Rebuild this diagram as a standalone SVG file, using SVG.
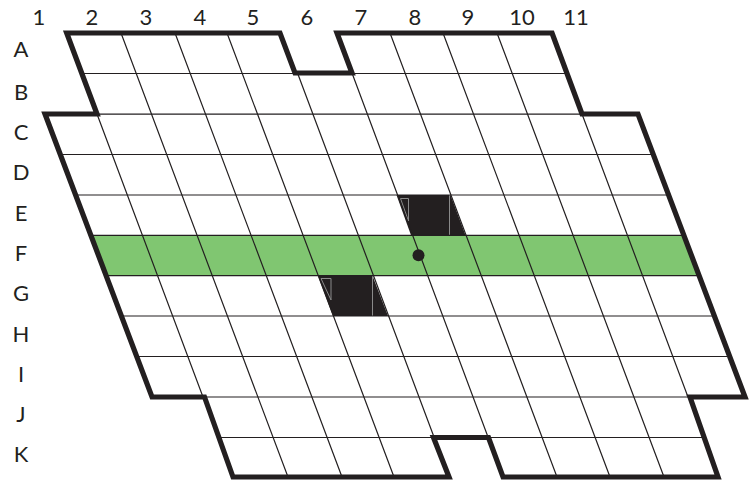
<svg xmlns="http://www.w3.org/2000/svg" width="755" height="481" viewBox="0 0 755 481">
<style>
text{font-family:"Lato","Liberation Sans",sans-serif;font-size:22px;fill:#231f20;text-anchor:middle}
.thin{fill:none;stroke:#231f20;stroke-width:1.2}
.hair{fill:none;stroke:#8a8a8a;stroke-width:1}
.dark{fill:#231f20}
</style>
<rect width="755" height="481" fill="#ffffff"/>
<g id="highlight-row-F"><polygon points="91.5,235.3 684,235.3 699,275.7 106.5,275.7" fill="#80c671"/></g>
<g id="cell-8E"><polygon class="dark" points="396.5,195 450.5,195 465.5,235.3 411,235.3"/><path class="hair" d="M400.5,198.5H408.5V221L400.5,198.5M449.5,195V235"/></g>
<g id="cell-7G"><polygon class="dark" points="318,275.7 372.5,275.7 388,316 333,316"/><path class="hair" d="M321,278.5H331V300L321,278.5M372.500,276V316"/></g>
<g id="connectors">
<path class="thin" d="M82,73.5H567M97,114.200H582M60,154.500H654M76,195H669M91,235.300H684M106,275.700H699M121,316H714M137,356.500H730M205,397H690M218,437.500H703"/>
<path class="thin" d="M97,114L203,397M121,33L288,477M175,33L342,477M227,33L394,477M297.500,73L434,437M352,73L488,437M390,33L557,477M443,33L610,477M497,33L664,477M582,114L688,397"/>
</g>
<g id="grid-outline"><path fill="none" stroke="#231f20" stroke-width="5.200" stroke-linejoin="miter" stroke-miterlimit="3" d="M552,33L582,114H638L745,397H690L718,477H503L488.500,437.500H433.500L449,477H233L204.500,397H152L45,114H97L66.700,33H280L295,73H352L337,33Z"/></g>
<g id="marker"><circle cx="418.500" cy="255.300" r="6" fill="#231f20"/></g>
<g id="column-labels">
<text x="39" y="25">1</text><text x="92" y="25">2</text><text x="146" y="25">3</text><text x="200" y="25">4</text><text x="253" y="25">5</text><text x="307" y="25">6</text><text x="361" y="25">7</text><text x="415" y="25">8</text><text x="468" y="25">9</text><text x="522" y="25">10</text><text x="576" y="25">11</text>
</g>
<g id="row-labels">
<text x="21" y="57">A</text><text x="21" y="100">B</text><text x="21" y="140">C</text><text x="21" y="180">D</text><text x="21" y="221">E</text><text x="21" y="261">F</text><text x="21" y="301">G</text><text x="21" y="342">H</text><text x="21" y="382">I</text><text x="21" y="422">J</text><text x="21" y="462">K</text>
</g>
</svg>
